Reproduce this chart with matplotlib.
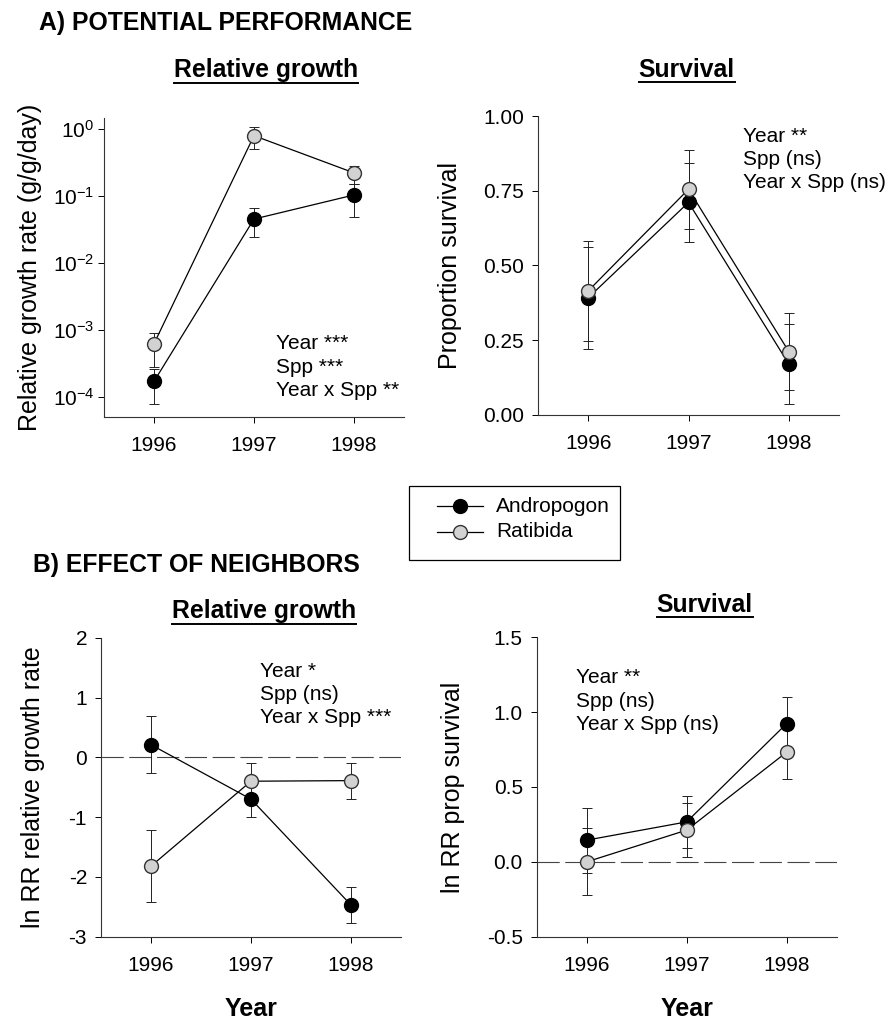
import matplotlib
matplotlib.use('Agg')
import matplotlib.pyplot as plt
from matplotlib.lines import Line2D
from matplotlib.patches import Rectangle
import numpy as np

plt.rcParams['font.family'] = ['Liberation Sans', 'DejaVu Sans']
plt.rcParams['mathtext.default'] = 'regular'
plt.rcParams['axes.unicode_minus'] = False

# ── Data ────────────────────────────────────────────────────────────────
years = [1996, 1997, 1998]

# A) relative growth rate (g/g/day), log scale -> asymmetric bars
andro_rgr = [1.7e-4, 0.045, 0.103]
andro_rgr_lo = [7.9e-5, 0.024, 0.048]
andro_rgr_hi = [2.6e-4, 0.066, 0.148]
rati_rgr = [6.2e-4, 0.79, 0.22]
rati_rgr_lo = [2.8e-4, 0.50, 0.15]
rati_rgr_hi = [9.1e-4, 1.08, 0.28]

# A) proportion survival
andro_surv = [0.392, 0.711, 0.170]
andro_surv_se = [0.170, 0.133, 0.133]
rati_surv = [0.415, 0.755, 0.212]
rati_surv_se = [0.168, 0.132, 0.130]

# B) ln RR relative growth rate
andro_rr_rgr = [0.21, -0.70, -2.47]
andro_rr_rgr_se = [0.48, 0.30, 0.30]
rati_rr_rgr = [-1.82, -0.40, -0.39]
rati_rr_rgr_se = [0.60, 0.30, 0.30]

# B) ln RR prop survival
andro_rr_surv = [0.145, 0.267, 0.924]
andro_rr_surv_se = [0.217, 0.175, 0.175]
rati_rr_surv = [0.0, 0.212, 0.733]
rati_rr_surv_se = [0.223, 0.178, 0.180]

species = ['Andropogon', 'Ratibida']

stats_a_rgr = ['Year ***', 'Spp ***', 'Year x Spp **']
stats_a_surv = ['Year **', 'Spp (ns)', 'Year x Spp (ns)']
stats_b_rgr = ['Year *', 'Spp (ns)', 'Year x Spp ***']
stats_b_surv = ['Year **', 'Spp (ns)', 'Year x Spp (ns)']

# ── Figure / pixel helpers ──────────────────────────────────────────────
W, H = 888, 1021
fig = plt.figure(figsize=(W / 100, H / 100), dpi=100)


def fx(px):
    return px / W


def fy(py):
    return 1 - py / H


def make_ax(left, top, right, bottom):
    return fig.add_axes([fx(left), fy(bottom), fx(right) - fx(left), fy(top) - fy(bottom)])


ANDRO = dict(color='black', marker='o', markersize=10, markerfacecolor='black',
             markeredgecolor='black', lw=0.9, zorder=3)
RATI = dict(color='black', marker='o', markersize=10, markerfacecolor='#d2d2d2',
            markeredgecolor='#333333', lw=0.9, zorder=3)
EB = dict(ecolor='#222222', elinewidth=0.7, capsize=3.5, capthick=0.7)


def style_ax(ax):
    for s in ['top', 'right']:
        ax.spines[s].set_visible(False)
    for s in ['left', 'bottom']:
        ax.spines[s].set_linewidth(0.8)
        ax.spines[s].set_color('#333333')
    ax.set_xlim(1995.5, 1998.5)
    ax.set_xticks(years)
    ax.set_xticklabels([str(y) for y in years])
    ax.tick_params(axis='x', direction='out', length=4, width=0.7, pad=10, labelsize=15)
    ax.tick_params(axis='y', direction='out', length=4, width=0.7, pad=6, labelsize=15)
    ax.minorticks_off()


def stats(x, y, lines):
    for i, s in enumerate(lines):
        fig.text(fx(x), fy(y + i * 23.3), s, fontsize=15, va='baseline', ha='left')


def year_label(x):
    fig.text(fx(x), fy(1016), 'Year', fontsize=18, fontweight='bold', ha='center', va='baseline')


# ── A) Relative growth ──────────────────────────────────────────────────
ax1 = make_ax(104, 118, 404, 417)
ax1.set_yscale('log')
ax1.errorbar(years, andro_rgr,
             yerr=[np.subtract(andro_rgr, andro_rgr_lo), np.subtract(andro_rgr_hi, andro_rgr)],
             **EB, **ANDRO)
ax1.errorbar(years, rati_rgr,
             yerr=[np.subtract(rati_rgr, rati_rgr_lo), np.subtract(rati_rgr_hi, rati_rgr)],
             **EB, **RATI)
style_ax(ax1)
ax1.set_ylim(5.0e-5, 1.45)
ax1.set_yticks([1e-4, 1e-3, 1e-2, 1e-1, 1e0])
ax1.set_yticklabels([r'$10^{-4}$', r'$10^{-3}$', r'$10^{-2}$', r'$10^{-1}$', r'$10^{0}$'])
ax1.tick_params(axis='y', pad=3)
ax1.minorticks_off()
ax1.set_ylabel('Relative growth rate (g/g/day)', fontsize=18)
ax1.yaxis.set_label_coords(-0.207, 0.5)
stats(276, 349.3, stats_a_rgr)

# ── A) Survival ─────────────────────────────────────────────────────────
ax2 = make_ax(538, 116, 839, 415)
ax2.errorbar(years, andro_surv, yerr=andro_surv_se, **EB, **ANDRO)
ax2.errorbar(years, rati_surv, yerr=rati_surv_se, **EB, **RATI)
style_ax(ax2)
ax2.set_ylim(0, 1)
ax2.set_yticks([0, 0.25, 0.5, 0.75, 1.0])
ax2.set_yticklabels(['0.00', '0.25', '0.50', '0.75', '1.00'])
ax2.set_ylabel('Proportion survival', fontsize=18)
ax2.yaxis.set_label_coords(-0.252, 0.5)
stats(742.7, 141.7, stats_a_surv)

# ── B) Relative growth ──────────────────────────────────────────────────
ax3 = make_ax(101, 637.7, 401, 936.7)
ax3.axhline(0, color='#444444', lw=0.8, dashes=(20, 5), zorder=1)
ax3.errorbar(years, andro_rr_rgr, yerr=andro_rr_rgr_se, **EB, **ANDRO)
ax3.errorbar(years, rati_rr_rgr, yerr=rati_rr_rgr_se, **EB, **RATI)
style_ax(ax3)
ax3.set_ylim(-3, 2)
ax3.set_yticks([-3, -2, -1, 0, 1, 2])
ax3.set_ylabel('ln RR relative growth rate', fontsize=18)
ax3.yaxis.set_label_coords(-0.187, 0.5)
year_label(251.5)
stats(260, 676.7, stats_b_rgr)

# ── B) Survival ─────────────────────────────────────────────────────────
ax4 = make_ax(536.7, 637.3, 836.7, 936.7)
ax4.axhline(0, color='#444444', lw=0.8, dashes=(20, 5), zorder=1)
ax4.errorbar(years, andro_rr_surv, yerr=andro_rr_surv_se, **EB, **ANDRO)
ax4.errorbar(years, rati_rr_surv, yerr=rati_rr_surv_se, **EB, **RATI)
style_ax(ax4)
ax4.set_ylim(-0.5, 1.5)
ax4.set_yticks([-0.5, 0.0, 0.5, 1.0, 1.5])
ax4.set_yticklabels(['-0.5', '0.0', '0.5', '1.0', '1.5'])
ax4.set_ylabel('ln RR prop survival', fontsize=18)
ax4.yaxis.set_label_coords(-0.239, 0.5)
year_label(687.3)
stats(576, 683.3, stats_b_surv)

# ── Section headers and underlined panel titles ─────────────────────────
fig.text(fx(39), fy(30), 'A) POTENTIAL PERFORMANCE', fontsize=17.8, fontweight='bold',
         ha='left', va='baseline')
fig.text(fx(33), fy(571.7), 'B) EFFECT OF NEIGHBORS', fontsize=17.8, fontweight='bold',
         ha='left', va='baseline')

titles = [
    ('Relative growth', 266, 77.3),
    ('Survival', 686.7, 76.7),
    ('Relative growth', 264, 618),
    ('Survival', 704.7, 611.7),
]
title_objs = []
for label, x, y in titles:
    t = fig.text(fx(x), fy(y), label, fontsize=17.8, fontweight='bold', ha='center', va='baseline')
    title_objs.append((t, y))

fig.canvas.draw()
r = fig.canvas.get_renderer()
for t, y in title_objs:
    bb = t.get_window_extent(renderer=r)
    fig.add_artist(Line2D([bb.x0 / W, bb.x1 / W], [fy(y + 5.5)] * 2,
                          color='black', lw=1.4, transform=fig.transFigure))

# ── Legend (drawn by hand to match the box proportions) ─────────────────
fig.add_artist(Rectangle((fx(409.3), fy(560)), fx(620) - fx(409.3), fy(485.7) - fy(560),
                         transform=fig.transFigure, facecolor='white', edgecolor='black',
                         lw=0.9))
for name, style, y in zip(species, [ANDRO, RATI], [506, 531.7]):
    fig.add_artist(Line2D([fx(437), fx(483)], [fy(y)] * 2, transform=fig.transFigure,
                          **{**style, 'marker': None}))
    fig.add_artist(Line2D([fx(460)], [fy(y)], transform=fig.transFigure,
                          **{**style, 'lw': 0}))
    fig.text(fx(496), fy(y), name, fontsize=15, ha='left', va='center')

fig.savefig('out.png', dpi=100)
